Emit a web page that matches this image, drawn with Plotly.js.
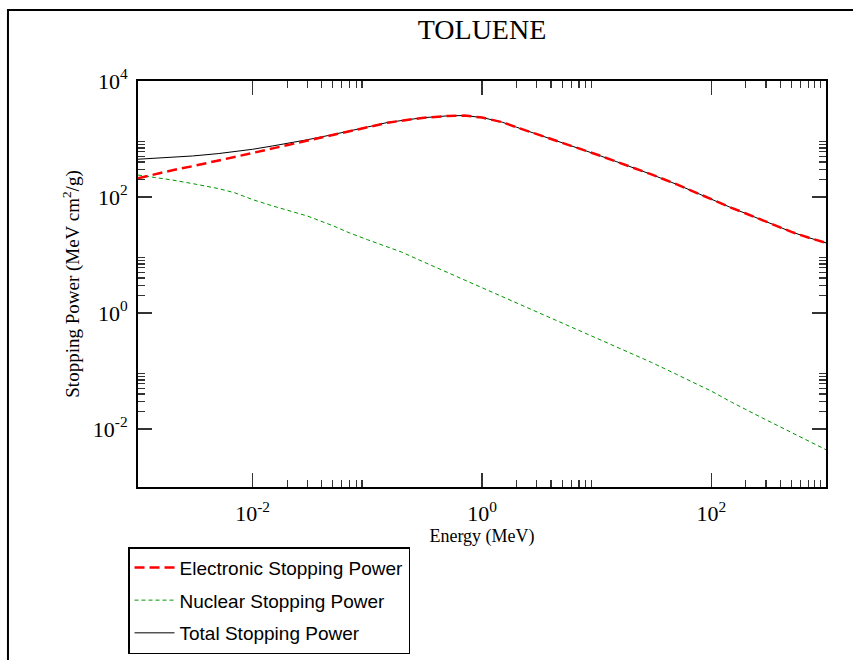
<!DOCTYPE html>
<html>
<head>
<meta charset="utf-8">
<script src="https://cdn.plot.ly/plotly-3.0.1.min.js"></script>
<style>
  html, body { margin: 0; padding: 0; background: #ffffff; }
  #chart { width: 853px; height: 660px; }
</style>
</head>
<body>
<div id="chart"></div>
<script>
// Energy grid (MeV)
const energy = [0.001, 0.0015, 0.002, 0.003, 0.005, 0.007, 0.01, 0.015, 0.02, 0.03, 0.05, 0.07,
  0.1, 0.15, 0.2, 0.3, 0.5, 0.7, 1, 1.5, 2, 3, 5, 7, 10, 15, 20, 30, 50, 70,
  100, 150, 200, 300, 500, 700, 1000];

// Electronic stopping power (MeV cm2/g)
const electronic = [210, 255, 290, 340, 420, 490, 575, 690, 780, 925, 1160, 1335,
  1590, 1914, 2085, 2312, 2500, 2535, 2345, 1950, 1595, 1222, 867, 687,
  540, 405, 330, 245, 165, 124, 90, 65, 52, 38, 25, 20, 16.2];

// Nuclear stopping power (MeV cm2/g)
const nuclear = [239, 214, 196, 170, 140, 118, 90, 70, 59, 47, 32, 24,
  18.4, 13.7, 11.2, 7.8, 5.0, 3.69, 2.66, 1.88, 1.47, 1.04, 0.67, 0.50,
  0.366, 0.258, 0.20, 0.141, 0.087, 0.063, 0.045, 0.029, 0.0215, 0.0144, 0.0087, 0.0062, 0.0044];

// Total stopping power (MeV cm2/g)
const total = [448, 468, 486, 510, 560, 608, 665, 760, 839, 972, 1192, 1359,
  1608, 1928, 2096, 2320, 2505, 2539, 2348, 1952, 1596, 1223, 868, 688,
  540, 405, 330, 245, 165, 124, 90, 65, 52, 38, 25, 20, 16.2];

// Tick labels
const xTickVals = [0.01, 1, 100];
const xTickText = ['10<sup>-2</sup>', '10<sup>0</sup>', '10<sup>2</sup>'];
const yTickVals = [0.01, 1, 100, 10000];
const yTickText = ['10<sup>-2</sup>', '10<sup>0</sup>', '10<sup>2</sup>', '10<sup>4</sup>'];
const minorMultipliers = [2, 3, 4, 5, 6, 7, 8, 9];
const minorDecades = [0.01, 1, 100];

const seriesNames = ['Electronic Stopping Power', 'Nuclear Stopping Power', 'Total Stopping Power'];

const minorVals = [];
minorDecades.forEach(d => minorMultipliers.forEach(m => minorVals.push(m * d)));

const serif = 'Liberation Serif, Times New Roman, serif';
const sans = 'Liberation Sans, Arial, sans-serif';

const traces = [
  {
    x: energy, y: total, type: 'scatter', mode: 'lines', name: seriesNames[2],
    legendgroup: 'g3', legendrank: 3,
    line: { color: '#000000', width: 1 }
  },
  {
    x: energy, y: nuclear, type: 'scatter', mode: 'lines', name: seriesNames[1],
    legendgroup: 'g2', legendrank: 2,
    line: { color: 'rgb(0,150,0)', width: 1, dash: '4px,3px' }
  },
  {
    x: energy, y: electronic, type: 'scatter', mode: 'lines', name: seriesNames[0],
    legendgroup: 'g1', legendrank: 1,
    line: { color: '#ff0000', width: 2.5, dash: '10px,5px' }
  }
];

const axisCommon = {
  type: 'log',
  showline: true, linecolor: '#000000', linewidth: 2, mirror: 'allticks',
  ticks: 'inside', ticklen: 14, tickwidth: 1.5, tickcolor: '#333333',
  showgrid: false, zeroline: false,
  tickmode: 'array',
  tickfont: { family: serif, size: 22, color: '#000000' },
  minor: { tickmode: 'array', tickvals: minorVals, ticks: 'inside', ticklen: 7, tickwidth: 1.2, tickcolor: '#333333', showgrid: false }
};

const layout = {
  width: 853, height: 660,
  paper_bgcolor: '#ffffff', plot_bgcolor: '#ffffff',
  margin: { l: 138, r: 27, t: 81, b: 173, autoexpand: false },
  showlegend: true,
  title: {
    text: 'TOLUENE',
    font: { family: serif, size: 28, color: '#000000' },
    xref: 'paper', x: 0.5, xanchor: 'center',
    yref: 'container', y: 0.956, yanchor: 'middle'
  },
  xaxis: Object.assign({}, axisCommon, {
    range: [-3, 3],
    tickvals: xTickVals, ticktext: xTickText,
    ticklabelstandoff: 6,
    title: { text: 'Energy (MeV)', font: { family: serif, size: 18, color: '#000000' }, standoff: 4 }
  }),
  yaxis: Object.assign({}, axisCommon, {
    range: [-3, 4],
    tickvals: yTickVals, ticktext: yTickText,
    ticklabelstandoff: 4,
    title: { text: 'Stopping Power (MeV cm<sup>2</sup>/g)', font: { family: serif, size: 19, color: '#000000' }, standoff: 8 }
  }),
  legend: {
    x: -0.0145, y: -0.148, xanchor: 'left', yanchor: 'top',
    bgcolor: '#ffffff', bordercolor: '#000000', borderwidth: 1.5,
    font: { family: sans, size: 19, color: '#000000' },
    tracegroupgap: 5, itemwidth: 40
  },
  shapes: [
    {
      type: 'rect', xref: 'paper', yref: 'paper',
      x0: -0.189, x1: 1.06, y0: -0.46, y1: 1.175,
      line: { color: '#000000', width: 2 }, fillcolor: 'rgba(0,0,0,0)', layer: 'below'
    }
  ]
};

Plotly.newPlot('chart', traces, layout, { staticPlot: true, displayModeBar: false });
</script>
</body>
</html>
